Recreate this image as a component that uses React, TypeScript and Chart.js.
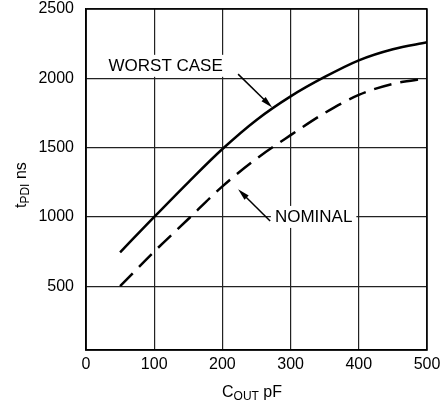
import React, { useEffect, useRef } from "react";
import { Chart, registerables } from "chart.js";

Chart.register(...registerables);

const capacitance = [50, 100, 150, 200, 250, 300, 350, 400, 450, 500];
const worstCase = [745, 1000, 1250, 1490, 1700, 1870, 2010, 2130, 2210, 2260];
const nominal = [500, 750, 985, 1220, 1420, 1590, 1750, 1880, 1960, 2000];
const yTicks = [500, 1000, 1500, 2000, 2500];
const xTicks = [0, 100, 200, 300, 400, 500];

const FONT = "'Liberation Sans', Arial, Helvetica, sans-serif";

function arrow(ctx: CanvasRenderingContext2D, x1: number, y1: number, x2: number, y2: number) {
  const ang = Math.atan2(y2 - y1, x2 - x1);
  const len = 12;
  const w = 3;
  ctx.save();
  ctx.strokeStyle = "#000";
  ctx.fillStyle = "#000";
  ctx.lineWidth = 1.5;
  ctx.beginPath();
  ctx.moveTo(x1, y1);
  ctx.lineTo(x2 - Math.cos(ang) * len * 0.8, y2 - Math.sin(ang) * len * 0.8);
  ctx.stroke();
  ctx.beginPath();
  ctx.moveTo(x2, y2);
  ctx.lineTo(x2 - Math.cos(ang) * len - Math.sin(ang) * w, y2 - Math.sin(ang) * len + Math.cos(ang) * w);
  ctx.lineTo(x2 - Math.cos(ang) * len + Math.sin(ang) * w, y2 - Math.sin(ang) * len - Math.cos(ang) * w);
  ctx.closePath();
  ctx.fill();
  ctx.restore();
}

function label(ctx: CanvasRenderingContext2D, text: string, x: number, y: number) {
  ctx.save();
  ctx.font = `17px ${FONT}`;
  ctx.textBaseline = "middle";
  ctx.textAlign = "left";
  const w = ctx.measureText(text).width;
  ctx.fillStyle = "#fff";
  ctx.fillRect(x - 4, y - 11, w + 8, 22);
  ctx.fillStyle = "#000";
  ctx.fillText(text, x, y);
  ctx.restore();
}

const decor = {
  id: "decor",
  afterDraw(chart: any) {
    const ctx: CanvasRenderingContext2D = chart.ctx;
    const { left, top, right, bottom } = chart.chartArea;
    const xs = chart.scales.x;
    const ys = chart.scales.y;
    ctx.save();
    ctx.strokeStyle = "#000";
    ctx.lineWidth = 1.5;
    ctx.strokeRect(left, top, right - left, bottom - top);
    ctx.restore();

    label(ctx, "WORST CASE", xs.getPixelForValue(33), ys.getPixelForValue(2090));
    arrow(ctx, xs.getPixelForValue(223), ys.getPixelForValue(2030), xs.getPixelForValue(273), ys.getPixelForValue(1790));
    label(ctx, "NOMINAL", xs.getPixelForValue(277), ys.getPixelForValue(1000));
    arrow(ctx, xs.getPixelForValue(270), ys.getPixelForValue(970), xs.getPixelForValue(223), ys.getPixelForValue(1200));

    // X axis title
    ctx.save();
    ctx.fillStyle = "#000";
    ctx.textBaseline = "alphabetic";
    ctx.textAlign = "left";
    let x = 222;
    ctx.font = `16px ${FONT}`;
    ctx.fillText("C", x, 397);
    x += ctx.measureText("C").width;
    ctx.font = `12px ${FONT}`;
    ctx.fillText("OUT", x, 400);
    x += ctx.measureText("OUT").width;
    ctx.font = `16px ${FONT}`;
    ctx.fillText(" pF", x, 397);
    ctx.restore();

    // Y axis title
    ctx.save();
    ctx.translate(26, 208);
    ctx.rotate(-Math.PI / 2);
    ctx.fillStyle = "#000";
    ctx.textAlign = "left";
    ctx.textBaseline = "alphabetic";
    let y = 0;
    ctx.font = `16px ${FONT}`;
    ctx.fillText("t", y, 0);
    y += ctx.measureText("t").width;
    ctx.font = `12px ${FONT}`;
    ctx.fillText("PDI", y, 3);
    y += ctx.measureText("PDI").width;
    ctx.font = `16px ${FONT}`;
    ctx.fillText(" ns", y, 0);
    ctx.restore();
  },
};

export default function App() {
  const ref = useRef<HTMLCanvasElement>(null);
  useEffect(() => {
    document.body.style.margin = "0";
    const chart = new Chart(ref.current!, {
      type: "line",
      data: {
        datasets: [
          {
            label: "WORST CASE",
            data: capacitance.map((c, i) => ({ x: c, y: worstCase[i] })),
            borderColor: "#000",
            borderWidth: 2.5,
            pointRadius: 0,
            tension: 0.4,
            cubicInterpolationMode: "monotone",
          },
          {
            label: "NOMINAL",
            data: capacitance.map((c, i) => ({ x: c, y: nominal[i] })),
            borderColor: "#000",
            borderWidth: 2.5,
            borderDash: [18, 9],
            pointRadius: 0,
            tension: 0.4,
            cubicInterpolationMode: "monotone",
          },
        ],
      },
      options: {
        animation: false,
        responsive: false,
        layout: { padding: { top: 9, right: 17, left: 0, bottom: 0 } },
        plugins: { legend: { display: false }, tooltip: { enabled: false } },
        scales: {
          x: {
            type: "linear",
            min: 0,
            max: 500,
            afterBuildTicks: (s: any) => {
              s.ticks = xTicks.map((v) => ({ value: v }));
            },
            afterFit: (s: any) => {
              s.height = 55;
              s.paddingLeft = 0;
              s.paddingRight = 0;
            },
            grid: { color: "#222", lineWidth: 1.2, drawTicks: false },
            border: { color: "#000", width: 1.5 },
            ticks: { color: "#000", font: { family: FONT, size: 16 }, padding: 5, callback: (v: any) => String(v) },
          },
          y: {
            type: "linear",
            min: 40,
            max: 2500,
            afterBuildTicks: (s: any) => {
              s.ticks = yTicks.map((v) => ({ value: v }));
            },
            afterFit: (s: any) => {
              s.width = 86;
              s.paddingTop = 0;
              s.paddingBottom = 0;
            },
            grid: { color: "#222", lineWidth: 1.2, drawTicks: false },
            border: { color: "#000", width: 1.5 },
            ticks: { color: "#000", font: { family: FONT, size: 16 }, padding: 12, callback: (v: any) => String(v) },
          },
        },
      },
      plugins: [decor],
    });
    return () => chart.destroy();
  }, []);
  return (
    <div style={{ width: 444, height: 405, background: "#fff" }}>
      <canvas ref={ref} width={444} height={405} style={{ display: "block" }} />
    </div>
  );
}
